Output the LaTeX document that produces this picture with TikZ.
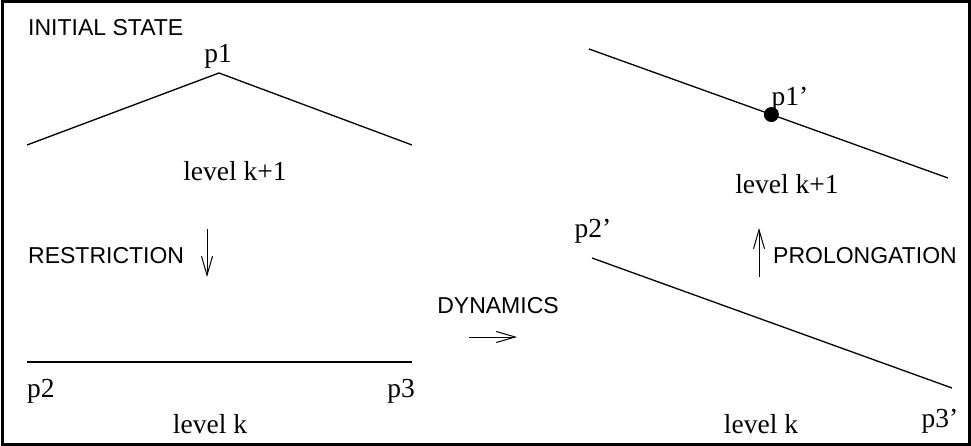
\documentclass[tikz,border=0pt]{standalone}
\usepackage{fontspec}
\setmainfont{Liberation Serif}
\setsansfont{Liberation Sans}
\usetikzlibrary{arrows.meta,calc}

\begin{document}
\begin{tikzpicture}[
  x=1pt, y=-1pt,
  lbl/.style={inner sep=0pt,font=\fontsize{27.5}{30}\selectfont},
  caption/.style={inner sep=0pt,font=\sffamily\fontsize{23}{26}\selectfont},
  level/.style={line width=1.3pt},
  arrow/.style={-{Straight Barb[length=19pt,width=11pt]},line width=1pt}
]
  \useasboundingbox (0,0) rectangle (971,446);
  \draw[line width=3pt] (2,2) rectangle (969,444);

  % Initial state, level k+1
  \node[caption,anchor=base west] (init) at (28,36) {INITIAL STATE};
  \coordinate (a1) at (27,145);
  \coordinate (p1) at (219,73);
  \coordinate (b1) at (412,145);
  \draw[level] (a1) -- (p1) -- (b1);
  \node[lbl,anchor=base] (p1lbl) at (218,63) {p1};
  \node[lbl,anchor=base] (lk1) at (235,181) {level k+1};

  % Restriction
  \node[caption,anchor=base west] (restr) at (28,263) {RESTRICTION};
  \coordinate (rtop) at (207,229);
  \coordinate (rbot) at (207,277);
  \draw[arrow] (rtop) -- (rbot);

  % Initial state, level k
  \coordinate (p2) at (27,362);
  \coordinate (p3) at (412,362);
  \draw[level] (p2) -- (p3);
  \node[lbl,anchor=base west] (p2lbl) at (27,397) {p2};
  \node[lbl,anchor=base east] (p3lbl) at (415,397) {p3};
  \node[lbl,anchor=base] (lk) at (210,433) {level k};

  % Dynamics
  \node[caption,anchor=base] (dyn) at (498,313) {DYNAMICS};
  \coordinate (dl) at (469,337);
  \coordinate (dr) at (517,337);
  \draw[arrow] (dl) -- (dr);

  % After dynamics, level k+1
  \coordinate (a2) at (589,49);
  \coordinate (b2) at (948,178);
  \draw[level] (a2) -- (b2);
  \node[circle,fill,inner sep=0pt,minimum size=15pt] (p1d) at ($(a2)!0.508!(b2)$) {};
  \node[lbl,anchor=base] (p1dlbl) at (790,106) {p1'};
  \node[lbl,anchor=base] (lk1d) at (787,194) {level k+1};

  % Prolongation
  \coordinate (pbot) at (759,277);
  \coordinate (ptop) at (759,228);
  \draw[arrow] (pbot) -- (ptop);
  \node[caption,anchor=base west] (prol) at (773,263) {PROLONGATION};

  % After dynamics, level k
  \coordinate (p2d) at (592,258);
  \coordinate (p3d) at (952,388);
  \draw[level] (p2d) -- (p3d);
  \node[lbl,anchor=base] (p2dlbl) at (593,238) {p2'};
  \node[lbl,anchor=base] (p3dlbl) at (940,427) {p3'};
  \node[lbl,anchor=base] (lkd) at (761,433) {level k};
\end{tikzpicture}
\end{document}
